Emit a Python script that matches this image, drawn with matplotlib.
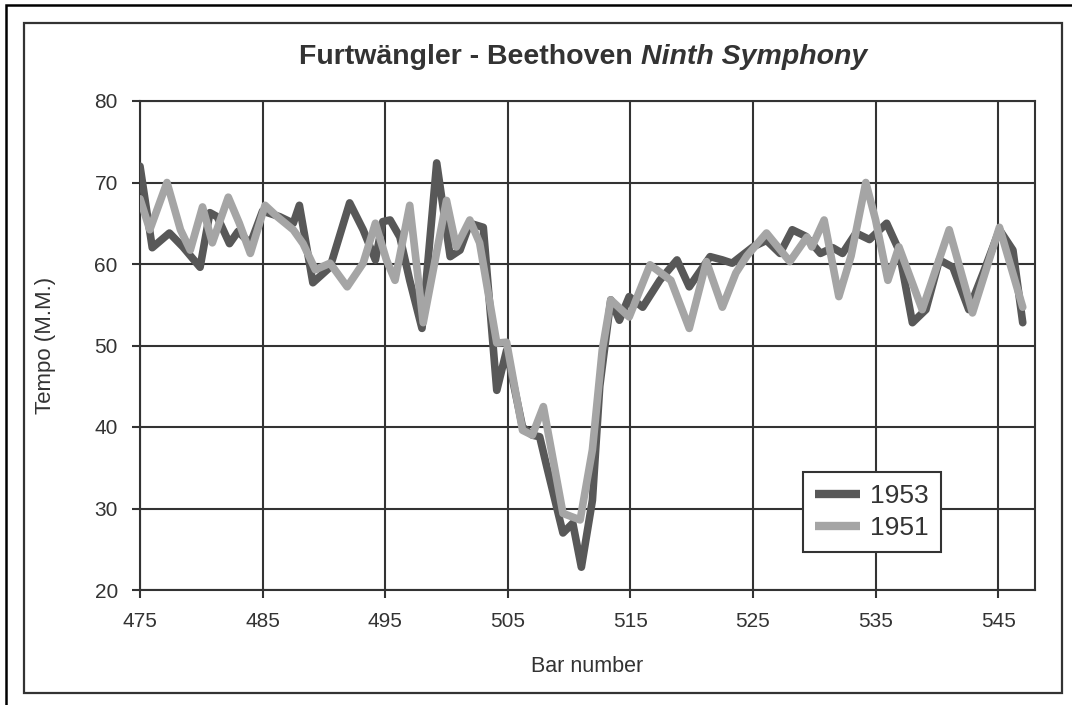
import matplotlib
matplotlib.use("Agg")
import matplotlib.pyplot as plt
from matplotlib.patches import Rectangle

plt.rcParams["font.family"] = ["Liberation Sans", "DejaVu Sans"]

# tempo traces (bar number, M.M.)
bars_1953 = [475.0, 476.0, 477.4, 478.5, 479.9, 480.7, 481.3, 482.3, 483.0, 484.0,
             485.0, 486.4, 487.5, 488.0, 489.1, 490.5, 492.1, 493.2, 494.2, 494.8,
             495.4, 496.2, 497.0, 498.0, 499.2, 500.3, 501.1, 501.9, 503.0, 504.1,
             504.9, 506.2, 507.0, 507.6, 508.2, 509.5, 510.3, 511.0, 511.9, 512.5,
             513.4, 514.1, 514.9, 516.0, 517.4, 518.8, 519.8, 521.5, 522.5, 523.3,
             525.0, 526.1, 527.2, 528.2, 529.3, 530.5, 531.5, 532.3, 533.4, 534.5,
             535.9, 536.9, 538.0, 539.1, 540.2, 541.3, 542.6, 543.8, 545.1, 546.2,
             547.0]
tempo_1953 = [72.0, 62.0, 63.8, 62.1, 59.6, 66.3, 65.8, 62.5, 64.0, 62.5,
              66.5, 65.8, 65.0, 67.2, 57.7, 59.6, 67.5, 64.2, 60.5, 65.2,
              65.4, 63.3, 58.0, 52.1, 72.4, 60.9, 61.7, 65.0, 64.5, 44.5,
              49.4, 40.0, 39.0, 38.8, 35.0, 27.0, 28.2, 22.8, 31.0, 45.0,
              55.6, 53.1, 56.0, 54.7, 58.0, 60.5, 57.2, 60.9, 60.5, 60.1,
              62.1, 62.9, 61.3, 64.2, 63.4, 61.3, 62.0, 61.3, 63.8, 63.0,
              65.0, 61.7, 52.8, 54.4, 60.5, 59.6, 54.4, 59.0, 64.2, 61.7,
              52.8]

bars_1951 = [475.0, 475.8, 477.2, 478.3, 479.1, 480.1, 480.9, 482.2, 483.1, 484.0,
             485.2, 486.2, 487.5, 488.3, 489.3, 490.5, 491.9, 493.2, 494.2, 495.1,
             495.8, 497.0, 498.1, 500.0, 500.8, 501.9, 502.7, 504.1, 504.9, 506.2,
             507.0, 507.9, 509.5, 510.9, 511.9, 512.7, 513.4, 514.9, 516.6, 518.3,
             519.8, 521.2, 522.5, 523.6, 524.5, 526.1, 528.0, 529.4, 529.8, 530.8,
             532.0, 533.0, 534.2, 535.0, 536.0, 536.9, 538.8, 541.0, 542.9, 545.1,
             547.0]
tempo_1951 = [68.0, 64.2, 70.0, 64.2, 61.7, 67.0, 62.6, 68.2, 65.0, 61.3,
              67.2, 65.8, 64.2, 62.5, 59.3, 60.1, 57.2, 60.1, 65.0, 60.5,
              58.0, 67.2, 52.8, 67.8, 62.1, 65.4, 62.6, 50.3, 50.4, 39.6,
              39.0, 42.5, 29.4, 28.6, 37.2, 49.4, 55.6, 53.5, 59.9, 58.0,
              52.1, 60.3, 54.7, 58.9, 61.0, 63.8, 60.3, 63.3, 62.1, 65.4,
              56.0, 61.0, 70.0, 65.4, 58.0, 62.1, 54.4, 64.2, 54.0, 64.5,
              54.7]

xticks = [475, 485, 495, 505, 515, 525, 535, 545]
yticks = [20, 30, 40, 50, 60, 70, 80]

W, H = 1072, 705
fig = plt.figure(figsize=(W / 100, H / 100), dpi=100)
ax = fig.add_axes([140 / W, 1 - 590 / H, 895 / W, 489 / H])

ink = "#333333"
ax.plot(bars_1953, tempo_1953, color="#585858", lw=5.5, label="1953",
        solid_joinstyle="round", solid_capstyle="round", zorder=3)
ax.plot(bars_1951, tempo_1951, color="#a5a5a5", lw=5.5, label="1951",
        solid_joinstyle="round", solid_capstyle="round", zorder=4)

ax.set_xlim(475, 548)
ax.set_ylim(20, 80)
ax.set_xticks(xticks)
ax.set_yticks(yticks)
ax.grid(True, color=ink, lw=1.5)
ax.set_axisbelow(True)
for s in ax.spines.values():
    s.set_color(ink)
    s.set_linewidth(1.5)
ax.tick_params(direction="out", length=6, width=1.5, color=ink,
               labelsize=15, labelcolor=ink, pad=10)

ax.set_xlabel("Bar number", fontsize=15.5, color=ink, labelpad=18)
ax.set_ylabel("Tempo (M.M.)", fontsize=16, color=ink, labelpad=28)

leg = ax.legend(loc="upper left", bbox_to_anchor=(0.741, 0.241), fontsize=19,
                fancybox=False, framealpha=1, edgecolor=ink, handlelength=1.7,
                handletextpad=0.4, borderpad=0.45, labelspacing=0.3,
                borderaxespad=0)
leg.get_frame().set_linewidth(1.5)
for line in leg.get_lines():
    line.set_solid_capstyle("butt")
    line.set_linewidth(6)
for t in leg.get_texts():
    t.set_color(ink)

# title: bold, with the work name in bold italic
t1 = fig.text(0, 1 - 57 / H, "Furtwängler - Beethoven ", fontsize=20.5,
              fontweight="bold", color=ink, va="center")
t2 = fig.text(0, 1 - 57 / H, "Ninth Symphony", fontsize=20.5, fontweight="bold",
              fontstyle="italic", color=ink, va="center")
fig.canvas.draw()
r = fig.canvas.get_renderer()
w1 = t1.get_window_extent(r).width
w2 = t2.get_window_extent(r).width
x0 = 583 - (w1 + w2) / 2
t1.set_x(x0 / W)
t2.set_x((x0 + w1) / W)

# frames around the chart
fig.add_artist(Rectangle((24 / W, 1 - 693 / H), 1038 / W, 670 / H, fill=False,
                         edgecolor=ink, lw=1.6, transform=fig.transFigure))
fig.add_artist(Rectangle((6 / W, -0.05), 1.1, 1 - 5 / H + 0.05, fill=False,
                         edgecolor="black", lw=1.8, transform=fig.transFigure))

fig.savefig("out.png", dpi=100)
